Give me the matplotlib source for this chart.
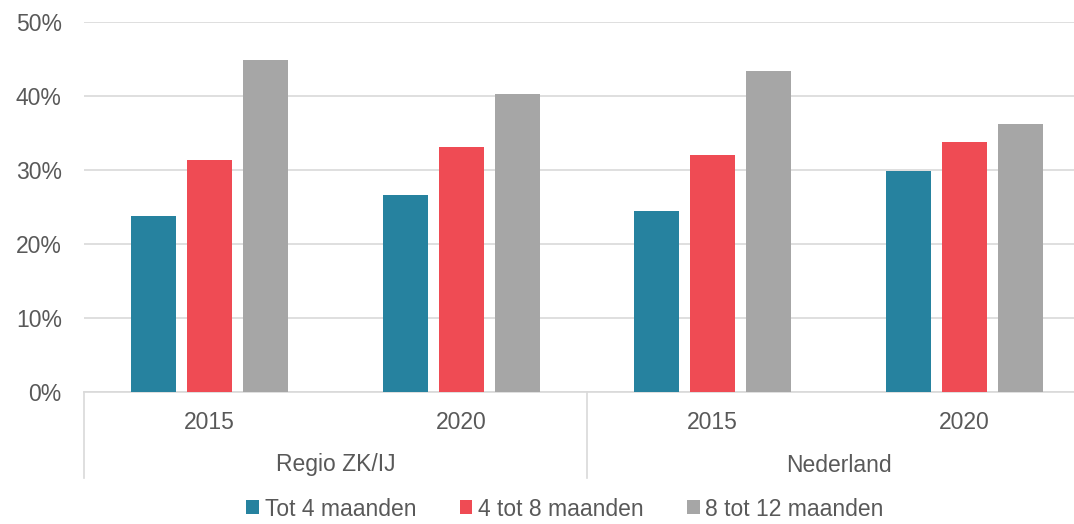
import matplotlib
matplotlib.use("Agg")
import matplotlib.pyplot as plt
import numpy as np

groups = ["Regio ZK/IJ", "Nederland"]
years = ["2015", "2020", "2015", "2020"]
series = ["Tot 4 maanden", "4 tot 8 maanden", "8 tot 12 maanden"]
tot4 = [23.8, 26.6, 24.5, 29.9]
tot8 = [31.3, 33.1, 32.0, 33.8]
tot12 = [44.9, 40.3, 43.4, 36.2]
colors = ["#26829F", "#EF4B54", "#A6A6A6"]

plt.rcParams['font.family'] = ['Liberation Sans', 'DejaVu Sans']
txt = "#595959"
fs = 16.5

fig = plt.figure(figsize=(10.74, 5.24), dpi=100)
ax = fig.add_axes([84/1074, 1-392/524, (1090-84)/1074, 370/524])

x = np.arange(len(years))
w = 0.179
off = 0.223
for i, (vals, c, lab) in enumerate(zip([tot4, tot8, tot12], colors, series)):
    ax.bar(x + (i-1)*off, vals, width=w, color=c, label=lab, zorder=3)

ax.set_xlim(-0.5, 3.5)
ax.set_ylim(0, 50)
ax.set_yticks(range(0, 51, 10))
ax.set_yticklabels([f"{v}%" for v in range(0, 51, 10)], color=txt, fontsize=fs)
ax.tick_params(axis='y', length=0, pad=16)
ax.grid(axis='y', color='#D9D9D9', linewidth=1.2, zorder=0)
for s in ['top', 'right', 'left']:
    ax.spines[s].set_visible(False)
ax.spines['bottom'].set_color('#D9D9D9')
ax.spines['bottom'].set_linewidth(1.2)
ax.set_xticks(x)
ax.set_xticklabels(years, color=txt, fontsize=fs)
ax.tick_params(axis='x', length=0, pad=14)

# group labels and separators
trans = ax.get_xaxis_transform()
for gi, g in enumerate(groups):
    ax.text(gi*2 + 0.5, -73/370, g, transform=trans, ha='center', va='center',
            color=txt, fontsize=fs)
for xs in [-0.5, 1.5]:
    ax.plot([xs, xs], [0, -86/370], transform=trans, color='#D9D9D9',
            linewidth=1.2, clip_on=False)

handles, labels = ax.get_legend_handles_labels()
leg = fig.legend(handles, labels, loc='center', bbox_to_anchor=(565/1074, 1-509/524),
                 ncol=3, frameon=False, fontsize=fs, handlelength=0.55, handleheight=0.55,
                 handletextpad=0.25, columnspacing=1.9, borderpad=0.1)
for t in leg.get_texts():
    t.set_color(txt)

fig.savefig("out.png", dpi=100)
